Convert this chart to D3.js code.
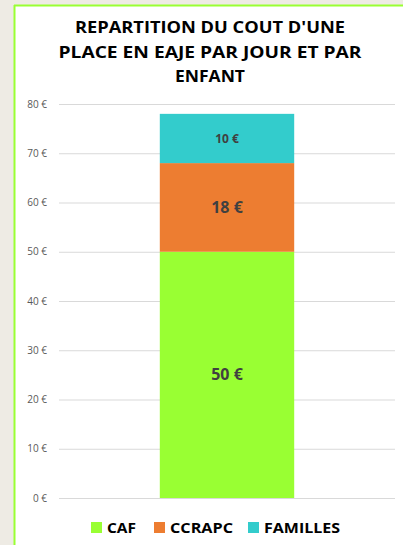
<!DOCTYPE html>
<html>
<head>
<meta charset="utf-8">
<script src="https://cdn.jsdelivr.net/npm/d3@7"></script>
<style>
  body { margin: 0; background: #eeebe4; }
  #chart { display: block; }
  .axis text { font-family: "Open Sans", sans-serif; font-size: 10px; fill: #595959; }
  .grid line { stroke: #d9d9d9; stroke-width: 1; }
  .grid path { display: none; }
</style>
</head>
<body>
<svg id="chart"></svg>
<script>
const W = 403, H = 545;
const margin = { top: 104, right: 8, bottom: 47, left: 59 };
const width = W - margin.left - margin.right;
const height = H - margin.top - margin.bottom;

const data = [{ label: "Coût", CAF: 50, CCRAPC: 18, FAMILLES: 10 }];
const keys = ["CAF", "CCRAPC", "FAMILLES"];
const colors = { CAF: "#99ff33", CCRAPC: "#ed7d31", FAMILLES: "#33cccc" };
const labelSize = { CAF: 16, CCRAPC: 16, FAMILLES: 12 };

const root = d3.select("#chart").attr("width", W).attr("height", H);

// frame of the chart object
root.append("rect").attr("x", 0).attr("y", 0).attr("width", W).attr("height", H).attr("fill", "#eeebe4");
root.append("rect").attr("x", 15).attr("y", 6).attr("width", W - 15).attr("height", H - 6).attr("fill", "#fff");
root.append("line").attr("x1", 14.5).attr("x2", 14.5).attr("y1", 5).attr("y2", H)
    .attr("stroke", "#99ff33").attr("stroke-width", 2);
root.append("line").attr("x1", 14).attr("x2", W).attr("y1", 5.5).attr("y2", 5.5)
    .attr("stroke", "#99ff33").attr("stroke-width", 2);

// title
const title = [
    { text: "REPARTITION DU COUT D'UNE", len: 270 },
    { text: "PLACE EN EAJE PAR JOUR ET PAR", len: 303 },
    { text: "ENFANT", len: 70 }
];
root.append("text")
    .attr("y", 33)
    .attr("text-anchor", "middle")
    .style("font-family", "'Open Sans', sans-serif")
    .style("font-weight", "bold")
    .style("font-size", "16.5px")
    .style("fill", "#000")
    .selectAll("tspan")
    .data(title)
    .join("tspan")
    .attr("x", 210)
    .attr("y", (d, i) => 33 + i * 24.5)
    .attr("textLength", d => d.len)
    .attr("lengthAdjust", "spacingAndGlyphs")
    .text(d => d.text);

const svg = root.append("g").attr("transform", `translate(${margin.left},${margin.top})`);

const xScale = d3.scaleBand()
    .domain(data.map(d => d.label))
    .range([0, width])
    .paddingInner(0.6)
    .paddingOuter(0.3);

const yScale = d3.scaleLinear()
    .domain([0, 80])
    .range([height, 0]);

svg.append("g")
    .attr("class", "grid")
    .call(d3.axisLeft(yScale).ticks(8).tickSize(-width).tickFormat(""));

svg.append("g")
    .attr("class", "axis y-axis")
    .call(d3.axisLeft(yScale).ticks(8).tickSize(0).tickPadding(12)
        .tickFormat(d => `${d} €`))
    .call(g => g.select(".domain").remove());

const stacked = d3.stack().keys(keys)(data);

const layer = svg.selectAll(".layer")
    .data(stacked)
    .join("g")
    .attr("class", "layer")
    .attr("fill", d => colors[d.key]);

layer.selectAll("rect")
    .data(d => d.map(v => Object.assign(v, { key: d.key })))
    .join("rect")
    .attr("x", d => xScale(d.data.label))
    .attr("width", xScale.bandwidth())
    .attr("y", d => yScale(d[1]))
    .attr("height", d => yScale(d[0]) - yScale(d[1]));

layer.selectAll("text")
    .data(d => d)
    .join("text")
    .attr("x", d => xScale(d.data.label) + xScale.bandwidth() / 2)
    .attr("y", d => (yScale(d[0]) + yScale(d[1])) / 2)
    .attr("dy", "0.35em")
    .attr("text-anchor", "middle")
    .style("font-family", "'Open Sans', sans-serif")
    .style("font-weight", "bold")
    .style("font-size", d => labelSize[d.key] + "px")
    .style("fill", "#404040")
    .text(d => `${d[1] - d[0]} €`);

// legend
const legendPos = { CAF: 91, CCRAPC: 154, FAMILLES: 248 };
const legendLen = { CAF: 29, CCRAPC: 63, FAMILLES: 76 };
const legend = root.append("g").attr("class", "legend")
    .selectAll("g")
    .data(keys)
    .join("g")
    .attr("transform", d => `translate(${legendPos[d]},${H - 18})`);

legend.append("rect")
    .attr("x", 0).attr("y", -5)
    .attr("width", 11).attr("height", 11)
    .attr("fill", d => colors[d]);

legend.append("text")
    .attr("x", 16)
    .attr("dy", "0.38em")
    .attr("textLength", d => legendLen[d])
    .attr("lengthAdjust", "spacingAndGlyphs")
    .style("font-family", "'Open Sans', sans-serif")
    .style("font-weight", "bold")
    .style("font-size", "15px")
    .style("fill", "#000")
    .text(d => d);
</script>
</body>
</html>
